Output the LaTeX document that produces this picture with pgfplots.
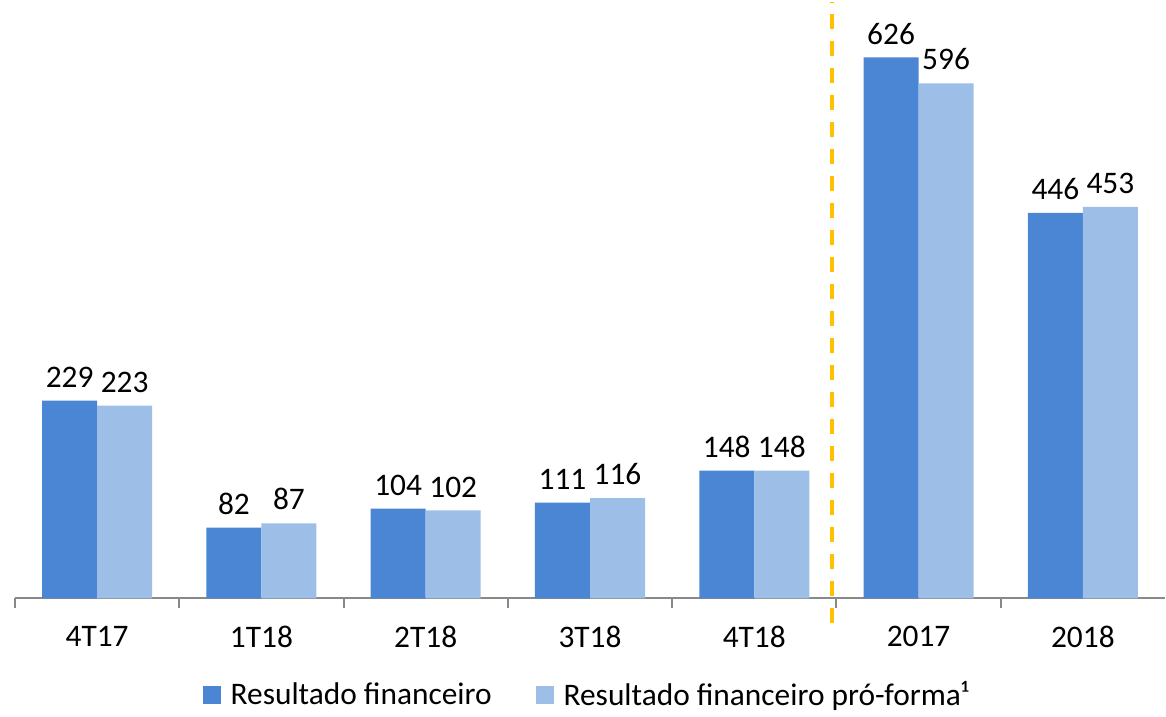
\documentclass[border=0pt]{standalone}
\usepackage{fontspec}
\setmainfont{Carlito}
\usepackage{pgfplots}
\pgfplotsset{compat=1.18}
\definecolor{darkbar}{RGB}{74,134,212}
\definecolor{lightbar}{RGB}{157,190,230}
\definecolor{sepline}{RGB}{255,192,0}
\definecolor{axisgray}{RGB}{137,137,137}
\newcommand{\lblfont}{\fontsize{15.7}{18}\selectfont}

\begin{document}
\begin{tikzpicture}
\begin{axis}[
    width=575.5pt, height=298.5pt, scale only axis,
    xmin=-0.5, xmax=6.5, ymin=0, ymax=690,
    axis x line*=bottom, axis y line=none,
    x axis line style={axisgray, line width=1pt},
    xtick={0,...,6},
    xticklabels={4T17,1T18,2T18,3T18,4T18,2017,2018},
    major tick length=0pt,
    extra x ticks={-0.5,0.5,1.5,2.5,3.5,4.5,5.5},
    extra x tick labels={},
    extra x tick style={major tick length=5pt, tick align=outside,
        tick style={axisgray, line width=1pt}},
    tick label style={font=\lblfont},
    xticklabel style={yshift=-10.5pt},
    /pgf/number format/assume math mode=true,
    clip=false,
    legend columns=2,
    legend style={draw=none, at={(0.498,-0.125)}, anchor=north, font=\lblfont,
        /tikz/every odd column/.append style={column sep=3pt},
        /tikz/every even column/.append style={column sep=20pt}},
    legend image code/.code={\fill[#1] (0pt,-4.5pt) rectangle (9pt,4.5pt);},
]
\addplot[ybar, bar width=0.335, bar shift=-0.1675, fill=darkbar, draw=none,
    nodes near coords, every node near coord/.append style={font=\lblfont, black, xshift=-13.77pt, yshift=3pt}]
    coordinates {(0,229) (1,82) (2,104) (3,111) (4,148) (5,626) (6,446)};
\addlegendentry{Resultado financeiro}
\addplot[ybar, bar width=0.335, bar shift=0.1675, fill=lightbar, draw=none,
    nodes near coords, every node near coord/.append style={font=\lblfont, black, xshift=13.77pt, yshift=3pt}]
    coordinates {(0,223) (1,87) (2,102) (3,116) (4,148) (5,596) (6,453)};
\addlegendentry{Resultado financeiro pró-forma¹}
% separator between quarters and years
\addplot[sharp plot, forget plot, sepline, line width=2pt, dash pattern=on 7.5pt off 6pt]
    coordinates {(4.475,-28) (4.475,690)};
\end{axis}
\path (current axis.south west) ++(-7.5pt,-50.5pt) rectangle (current axis.north east);
\end{tikzpicture}
\end{document}
